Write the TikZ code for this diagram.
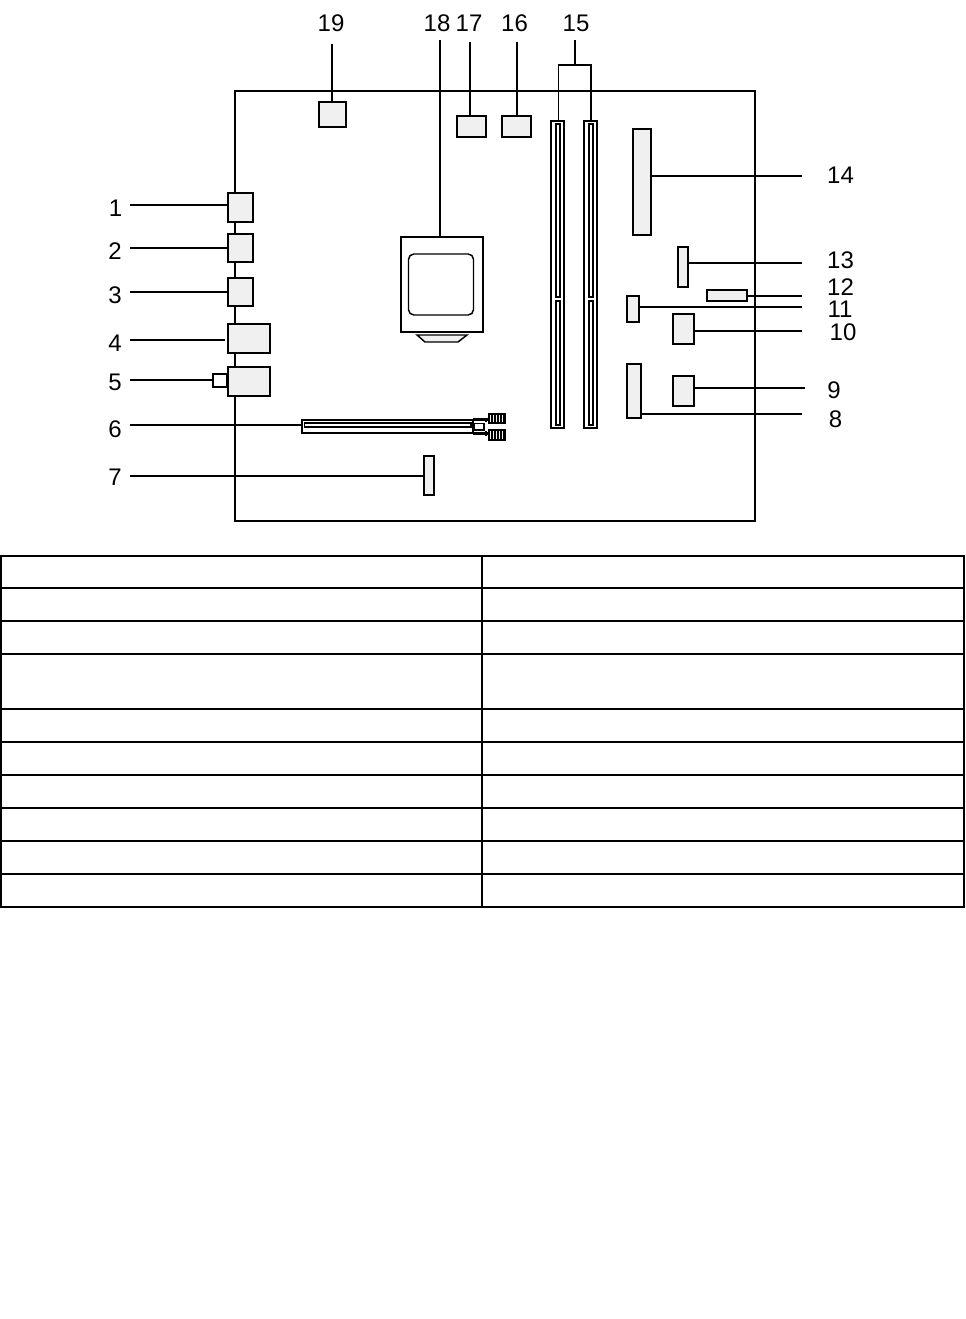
\documentclass[tikz,border=0pt]{standalone}
\usepackage{fontspec}
\setmainfont{Liberation Sans}
\definecolor{compfill}{HTML}{F0F0F0}
\newcommand{\comp}[6][]{%
  \pgfmathsetmacro{\cxx}{(#3+#5)/2}\pgfmathsetmacro{\cyy}{(#4+#6)/2}%
  \pgfmathsetmacro{\ww}{(#5-#3-2)*0.75}\pgfmathsetmacro{\hh}{(#6-#4-2)*0.75}%
  \node[compbox,minimum width=\ww pt,minimum height=\hh pt,#1] (#2) at (\cxx,\cyy) {};}
\tikzset{
  compbox/.style={draw=black,fill=compfill,line width=1.5pt,inner sep=0pt,outer sep=0pt},
  thinl/.style={line width=1pt},
  medl/.style={line width=1.6pt},
  num/.style={font=\fontsize{18}{18}\selectfont,inner sep=0pt,text=black}
}
\begin{document}
\begin{tikzpicture}[x=0.75pt,y=-0.75pt]
\useasboundingbox (0,0) rectangle (965,1319);
\fill[white] (0,0) rectangle (965,1319);
% board
\draw[line width=1.6pt] (235,91) rectangle (755,521);
% free ends
\coordinate (e1) at (130,205);\coordinate (e2) at (130,248);\coordinate (e3) at (130,292);
\coordinate (e4) at (130,340);\coordinate (e4b) at (225,340);\coordinate (e5) at (130,380);
\coordinate (e6) at (130,425);\coordinate (e7) at (130,476);
\coordinate (e8) at (802,414);\coordinate (e9) at (805,388);\coordinate (e10) at (802,331);
\coordinate (e11) at (802,307);\coordinate (e12) at (802,296);\coordinate (e13) at (802,263);
\coordinate (e14) at (802,176);
\coordinate (e15) at (575,40);\coordinate (e15j) at (575,65);
\coordinate (b1) at (558.5,65);\coordinate (b2) at (591,65);
\coordinate (e16) at (517,42);\coordinate (e17) at (470,42);\coordinate (e18) at (440,40);\coordinate (e19) at (332,44);
% back panel
\comp{c1}{227}{192}{254}{223}
\comp{c2}{227}{233}{254}{263}
\comp{c3}{227}{277}{254}{307}
\comp{c4}{227}{323}{271}{354}
\comp{c5}{227}{366}{271}{397}
\comp[fill=white]{c5b}{212}{373}{228}{388}
\comp[line width=1.2pt]{c7}{423}{455}{435}{496}
\comp[line width=1.2pt]{c19}{318}{101}{347}{128}
\comp{c17}{456}{115}{487}{138}
\comp{c16}{501}{115}{532}{138}
\comp{c14}{632}{128}{652}{236}
\comp{c13}{677}{246}{689}{288}
\comp{c12}{706}{289}{748}{302}
\comp[line width=1.2pt]{c11}{626}{295}{640}{323}
\comp{c10}{672}{313}{695}{345}
\comp[line width=1pt]{c9}{672}{375}{695}{407}
\comp{c8}{626}{363}{642}{419}
% CPU
\comp[fill=white]{cpu}{400}{236}{484}{333}
\draw[fill=white,line width=1.1pt,rounded corners=4pt] (408.5,315) -- (408.5,254) -- (473.5,254) -- (473.5,315) -- cycle;
\draw[fill=compfill,line width=1.1pt] (417,335) -- (467,335) -- (458,342) -- (425,342) -- cycle;
% PCIe slot
\comp[fill=white]{c6}{301}{419}{474}{434}
\draw[line width=1.4pt,fill=white] (304.5,423) rectangle (471,427);
\draw[line width=1.6pt] (473,419.5) -- (490,419.5) (473,433.5) -- (490,433.5) (486,418) -- (486,422) (486,431) -- (486,436);
\draw[line width=1pt] (474,423.5) rectangle (484,430);
\comp{k1}{488}{413}{506}{424}
\comp{k2}{488}{429}{506}{441}
\foreach \kx in {492,495,498,501,504}{\draw[line width=0.8pt] (\kx,413) -- (\kx,424) (\kx,429) -- (\kx,441);}
% DIMM slots
\comp[fill=white]{d1}{550}{120}{565}{429}
\comp[fill=white]{d2}{583}{120}{598}{429}
\foreach \dx in {555.5,588.5}{
  \draw[line width=1.5pt] (\dx,124) rectangle (\dx+4.8,297);
  \draw[line width=1.5pt] (\dx,301) rectangle (\dx+4.8,425);
}
% connectors
\draw[medl] (e1) -- (e1 -| c1.west);
\draw[thinl] (e2) -- (e2 -| c2.west);
\draw[thinl] (e3) -- (e3 -| c3.west);
\draw[thinl] (e4) -- (e4b);
\draw[medl] (e5) -- (e5 -| c5b.west);
\draw[thinl] (e6) -- (e6 -| c6.west);
\draw[medl] (e7) -- (e7 -| c7.west);
\draw[medl] (e8 -| c8.east) -- (e8);
\draw[thinl] (e9 -| c9.east) -- (e9);
\draw[medl] (e10 -| c10.east) -- (e10);
\draw[medl] (e11 -| c11.east) -- (e11);
\draw[medl] (e12 -| c12.east) -- (e12);
\draw[thinl] (e13 -| c13.east) -- (e13);
\draw[medl] (e14 -| c14.east) -- (e14);
\draw[thinl] (e15) -- (e15j);
\draw[thinl] (b1 |- d1.north) -- (b1) -- (b2) -- (b2 |- d2.north);
\draw[medl] (e16) -- (e16 |- c16.north);
\draw[medl] (e17) -- (e17 |- c17.north);
\draw[medl] (e18) -- (e18 |- cpu.north);
\draw[medl] (e19) -- (e19 |- c19.north);
% labels
\node[num] (n1) at (115.5,208) {1};
\node[num] (n2) at (115,251) {2};
\node[num] (n3) at (115,295) {3};
\node[num] (n4) at (115,343) {4};
\node[num] (n5) at (115,382) {5};
\node[num] (n6) at (115,429) {6};
\node[num] (n7) at (115,477) {7};
\node[num] (n8) at (835.5,419) {8};
\node[num] (n9) at (834,390) {9};
\node[num] (n10) at (843,332) {10};
\node[num] (n11) at (840,309) {11};
\node[num] (n12) at (840.5,287) {12};
\node[num] (n13) at (840.5,260) {13};
\node[num] (n14) at (840.5,175) {14};
\node[num] (n15) at (576,23) {15};
\node[num] (n16) at (514.5,23) {16};
\node[num] (n17) at (469,23) {17};
\node[num] (n18) at (437,23) {18};
\node[num] (n19) at (331,23) {19};
% table
\draw[line width=1.6pt] (1,556) rectangle (964,907);
\draw[line width=1.6pt] (482,556) -- (482,907);
\foreach \ty in {588,621,654,709,742,775,808,841,874}{\draw[line width=1.6pt] (1,\ty) -- (964,\ty);}
\end{tikzpicture}
\end{document}
